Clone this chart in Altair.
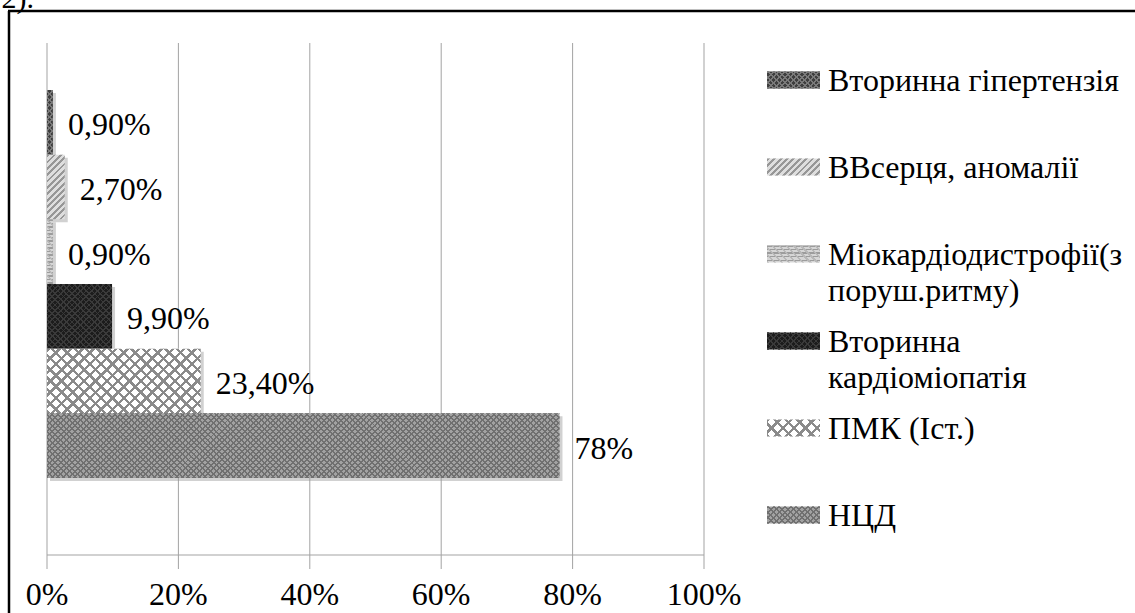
import math
import altair as alt
import pandas as pd

# Diagnoses (top to bottom) and their share of patients, %
categories = [
    "Вторинна гіпертензія",
    "ВВсерця, аномалії",
    "Міокардіодистрофії(з поруш.ритму)",
    "Вторинна кардіоміопатія",
    "ПМК (Іст.)",
    "НЦД",
]
legend_text = [
    "Вторинна гіпертензія",
    "ВВсерця, аномалії",
    "Міокардіодистрофії(з\nпоруш.ритму)",
    "Вторинна\nкардіоміопатія",
    "ПМК (Іст.)",
    "НЦД",
]
values = [0.9, 2.7, 0.9, 9.9, 23.4, 78]
value_labels = ["0,90%", "2,70%", "0,90%", "9,90%", "23,40%", "78%"]
x_ticks = [0, 20, 40, 60, 80, 100]

# base fill of each series and the hatch lines drawn over it:
# (direction, line colour, spacing in px, share of the spacing that is line)
fills = ["#3e3e3e", "#dedede", "#d6d6d6", "#1c1c1c", "#ffffff", "#a2a2a2"]
hatches = [
    [("d1", "#7a7a7a", 4, 0.35), ("d2", "#7a7a7a", 4, 0.35)],
    [("d1", "#979797", 4.5, 0.45)],
    [("h", "#9c9c9c", 3.5, 0.4), ("d2", "#b8b8b8", 5, 0.3)],
    [("d1", "#3a3a3a", 4, 0.3), ("d2", "#3a3a3a", 4, 0.3)],
    [("d1", "#8a8a8a", 8, 0.3), ("d2", "#8a8a8a", 8, 0.3)],
    [("d1", "#707070", 4, 0.35), ("d2", "#707070", 4, 0.35)],
]

FONT = "Liberation Serif, Times New Roman, serif"
FS = 32
GRID = "#a3a3a3"
CLEAR = "rgba(255,255,255,0)"

X_RANGE = [47, 704]
Y_RANGE = [90, 478]
SWATCH = (767, 820, 17)


def hatch_gradient(direction, color, spacing, duty, w, h):
    """Hard-stop linear gradient that draws parallel lines over a w x h box."""
    if direction == "h":
        coords = dict(x1=0, y1=0, x2=0, y2=1)
        period = spacing / h
    elif direction == "v":
        coords = dict(x1=0, y1=0, x2=1, y2=0)
        period = spacing / w
    else:
        k = (w + h) / (w * w + h * h)
        a, b = w * k, h * k
        if direction == "d1":
            coords = dict(x1=0, y1=0, x2=a, y2=b)
        else:
            coords = dict(x1=0, y1=1, x2=a, y2=1 - b)
        period = spacing * math.sqrt(2) / (w + h)
    stops = []
    n = int(math.ceil(1 / period))
    for i in range(n):
        s = i * period
        m = min(1.0, s + duty * period)
        e = min(1.0, (i + 1) * period)
        stops += [
            alt.GradientStop(offset=round(min(s, 1.0), 5), color=color),
            alt.GradientStop(offset=round(m, 5), color=color),
            alt.GradientStop(offset=round(m, 5), color=CLEAR),
            alt.GradientStop(offset=round(e, 5), color=CLEAR),
        ]
    return alt.LinearGradient(gradient="linear", stops=stops, **coords)


df = pd.DataFrame({
    "series": categories,
    "value": values,
    "label": value_labels,
    "legend": legend_text,
})
ticks_df = pd.DataFrame({"tick": x_ticks, "tick_label": [f"{t}%" for t in x_ticks]})

x_scale = alt.Scale(domain=[0, 100], range=X_RANGE, nice=False, zero=True)
y_scale = alt.Scale(domain=categories, range=Y_RANGE, paddingInner=0, paddingOuter=0)
x_val = alt.X("value:Q", scale=x_scale, axis=None)
y_cat = alt.Y("series:N", sort=categories, scale=y_scale, axis=None)
x_tick = alt.X("tick:Q", scale=x_scale, axis=None)
legend_y = alt.Y("series:N", sort=categories, axis=None,
                 scale=alt.Scale(type="point", domain=categories, range=[80, 515], padding=0))

base = alt.Chart(df)
tick_base = alt.Chart(ticks_df)

# vertical gridlines, the bottom axis line, its tick marks and labels
grid = tick_base.mark_rule(color=GRID, strokeWidth=1).encode(
    x=x_tick, y=alt.value(43), y2=alt.value(555),
)
axis_line = alt.Chart(pd.DataFrame({"lo": [0], "hi": [100]})).mark_rule(
    color=GRID, strokeWidth=1.2
).encode(
    x=alt.X("lo:Q", scale=x_scale, axis=None), x2="hi:Q", y=alt.value(555),
)
tick_marks = tick_base.mark_rule(color=GRID, strokeWidth=1).encode(
    x=x_tick, y=alt.value(555), y2=alt.value(569),
)
tick_labels = tick_base.mark_text(baseline="middle", font=FONT, fontSize=FS,
                                  color="black").encode(
    x=x_tick, y=alt.value(595), text="tick_label:N",
)

shadow = base.mark_bar(color="#9a9a9a", opacity=0.45, xOffset=3, yOffset=3).encode(
    x=x_val, y=y_cat,
)

layers = [grid, axis_line, tick_marks, tick_labels, shadow]

band_h = (Y_RANGE[1] - Y_RANGE[0]) / len(categories)
sw_x0, sw_x1, sw_h = SWATCH
for name, v, fill, hatch in zip(categories, values, fills, hatches):
    one = base.transform_filter(alt.datum.series == name)
    bar_w = max(1.0, v / 100 * (X_RANGE[1] - X_RANGE[0]))
    layers.append(one.mark_bar(color=fill).encode(x=x_val, y=y_cat))
    for d, c, s, duty in hatch:
        layers.append(
            one.mark_bar(color=hatch_gradient(d, c, s, duty, bar_w, band_h)).encode(x=x_val, y=y_cat)
        )
    # legend swatch with the same fill
    layers.append(
        one.mark_bar(color=fill, size=sw_h).encode(
            x=alt.value(sw_x0), x2=alt.value(sw_x1), y=legend_y
        )
    )
    for d, c, s, duty in hatch:
        layers.append(
            one.mark_bar(color=hatch_gradient(d, c, s, duty, sw_x1 - sw_x0, sw_h), size=sw_h).encode(
                x=alt.value(sw_x0), x2=alt.value(sw_x1), y=legend_y
            )
        )

labels = base.mark_text(align="left", baseline="middle", dx=15, dy=3,
                        font=FONT, fontSize=FS, color="black").encode(
    x=x_val, y=y_cat, text="label:N",
)

legend_labels = base.mark_text(align="left", baseline="alphabetic", dy=11,
                               font=FONT, fontSize=FS, color="black",
                               lineBreak="\n", lineHeight=36).encode(
    x=alt.value(828),
    y=legend_y,
    text="legend:N",
)

frame = alt.Chart(pd.DataFrame({"k": [0]}))
frame_left = frame.mark_rule(color="black", strokeWidth=2.5).encode(
    x=alt.value(9), y=alt.value(11), y2=alt.value(640)
)
frame_top = frame.mark_rule(color="black", strokeWidth=2.5).encode(
    x=alt.value(8), x2=alt.value(1200), y=alt.value(11)
)
caption_tail = frame.mark_text(align="left", baseline="alphabetic", font=FONT,
                               fontSize=30, color="black", text=".2).").encode(
    x=alt.value(-6), y=alt.value(8)
)

layers += [labels, legend_labels, frame_left, frame_top, caption_tail]

chart = alt.layer(*layers).resolve_scale(y="independent").properties(
    width=1135, height=613,
    autosize=alt.AutoSizeParams(type="none"),
    padding=0,
    background="white",
).configure_view(stroke=None)

chart.save("out.html", embed_options={"renderer": "svg", "actions": False})
